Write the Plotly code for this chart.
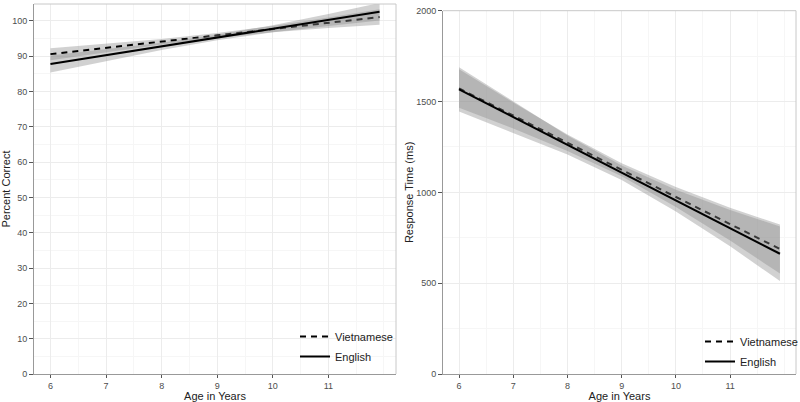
import plotly.graph_objects as go
from plotly.subplots import make_subplots

# ── Data ─────────────────────────────────────────────────────────────────────
age = [6, 7, 8, 9, 10, 11, 11.92]

# Percent correct: fitted line and confidence band
pc_viet_fit = [90.6, 92.4, 94.1, 95.9, 97.7, 99.5, 101.1]
pc_viet_lo = [88.9, 91.2, 93.3, 95.2, 96.8, 98.0, 98.9]
pc_viet_hi = [92.3, 93.6, 94.9, 96.6, 98.6, 101.0, 103.3]

pc_eng_fit = [87.8, 90.3, 92.8, 95.3, 97.8, 100.3, 102.6]
pc_eng_lo = [85.4, 88.7, 91.8, 94.5, 96.8, 98.6, 100.1]
pc_eng_hi = [90.2, 91.9, 93.8, 96.1, 98.8, 102.0, 105.1]

# Response time (ms): fitted line and confidence band
rt_viet_fit = [1572, 1423, 1273, 1124, 975, 825, 688]
rt_viet_lo = [1466, 1351, 1228, 1088, 920, 735, 553]
rt_viet_hi = [1678, 1495, 1318, 1160, 1030, 915, 823]

rt_eng_fit = [1567, 1414, 1261, 1108, 955, 803, 662]
rt_eng_lo = [1445, 1329, 1209, 1068, 895, 703, 512]
rt_eng_hi = [1689, 1499, 1313, 1148, 1015, 903, 812]

x_ticks = [6, 7, 8, 9, 10, 11]
pc_ticks = [0, 10, 20, 30, 40, 50, 60, 70, 80, 90, 100]
rt_ticks = [0, 500, 1000, 1500, 2000]

# ── Styling ──────────────────────────────────────────────────────────────────
FONT = "Arial, Liberation Sans, sans-serif"
BAND = "rgba(140,140,140,0.4)"
GRID = "#ececec"
MINOR = "#f6f6f6"

# plot area in pixels: l=34, r=4, t=4, b=28  -> 762 x 370
W, H = 800, 402
ML, MR, MT, MB = 34, 4, 4, 28
PW, PH = W - ML - MR, H - MT - MB


def px_x(a, b):
    return [(a - ML) / PW, (b - ML) / PW]


fig = make_subplots(rows=1, cols=2)


def add_series(col, fit, lo, hi, name, dash, legend):
    fig.add_trace(
        go.Scatter(x=age, y=lo, mode="lines", line=dict(width=0),
                   showlegend=False, hoverinfo="skip"),
        row=1, col=col,
    )
    fig.add_trace(
        go.Scatter(x=age, y=hi, mode="lines", line=dict(width=0),
                   fill="tonexty", fillcolor=BAND,
                   showlegend=False, hoverinfo="skip"),
        row=1, col=col,
    )
    fig.add_trace(
        go.Scatter(x=age, y=fit, mode="lines", name=name,
                   line=dict(color="black", width=2, dash=dash),
                   legend=legend, legendgroup=f"{legend}-{name}"),
        row=1, col=col,
    )


add_series(1, pc_viet_fit, pc_viet_lo, pc_viet_hi, "Vietnamese", "6px,5px", "legend")
add_series(1, pc_eng_fit, pc_eng_lo, pc_eng_hi, "English", "solid", "legend")
add_series(2, rt_viet_fit, rt_viet_lo, rt_viet_hi, "Vietnamese", "6px,5px", "legend2")
add_series(2, rt_eng_fit, rt_eng_lo, rt_eng_hi, "English", "solid", "legend2")

x_common = dict(
    range=[5.704, 12.216],
    tickmode="array", tickvals=x_ticks,
    ticks="outside", ticklen=3, tickcolor="#555",
    showline=True, linecolor="#999", mirror=False,
    showgrid=True, gridcolor=GRID, gridwidth=1,
    minor=dict(tickvals=[6.5, 7.5, 8.5, 9.5, 10.5, 11.5, 12],
               showgrid=True, gridcolor=MINOR, ticks=""),
    zeroline=False, automargin=False,
    tickfont=dict(size=9, color="#4d4d4d"),
    title=dict(text="Age in Years", font=dict(size=11, color="#222"), standoff=0),
)

fig.update_xaxes(**x_common, domain=px_x(34, 396), row=1, col=1)
fig.update_xaxes(**x_common, domain=px_x(443, 796), row=1, col=2)

y_common = dict(
    ticks="outside", ticklen=4, tickcolor="#555",
    showline=True, linecolor="#999",
    showgrid=True, gridcolor=GRID, gridwidth=1,
    zeroline=False, automargin=False,
    tickfont=dict(size=9, color="#4d4d4d"),
)

top_right = (374 - 10.7) / PH

fig.update_yaxes(
    **y_common,
    range=[0, 104.8], tickmode="array", tickvals=pc_ticks,
    minor=dict(tickvals=[5, 15, 25, 35, 45, 55, 65, 75, 85, 95],
               showgrid=True, gridcolor=MINOR, ticks=""),
    domain=[0, 1],
    title=dict(text="Percent Correct", font=dict(size=11, color="#222"), standoff=0),
    row=1, col=1,
)
fig.update_yaxes(
    **y_common,
    range=[0, 2000], tickmode="array", tickvals=rt_ticks,
    minor=dict(tickvals=[250, 750, 1250, 1750],
               showgrid=True, gridcolor=MINOR, ticks=""),
    domain=[0, top_right],
    title=dict(text="Response Time (ms)", font=dict(size=11, color="#222"), standoff=0),
    row=1, col=2,
)

# light panel borders (top / right)
for (x0, x1), ytop in [(px_x(34, 396), 1.0), (px_x(443, 796), top_right)]:
    fig.add_shape(type="line", xref="paper", yref="paper", x0=x0, x1=x1,
                  y0=ytop, y1=ytop, line=dict(color="#c8c8c8", width=1))
    fig.add_shape(type="line", xref="paper", yref="paper", x0=x1, x1=x1,
                  y0=0, y1=ytop, line=dict(color="#c8c8c8", width=1))

legend_style = dict(
    bgcolor="rgba(0,0,0,0)", font=dict(size=11, color="#222", family=FONT),
    traceorder="grouped", xanchor="left", yanchor="top",
    itemwidth=30, tracegroupgap=1,
)

fig.update_layout(
    width=W, height=H,
    margin=dict(l=ML, r=MR, t=MT, b=MB, autoexpand=False),
    plot_bgcolor="white", paper_bgcolor="white",
    font=dict(family=FONT),
    legend=dict(**legend_style, x=(295 - ML) / PW, y=(374 - 322) / PH),
    legend2=dict(**legend_style, x=(700 - ML) / PW, y=(374 - 327) / PH),
)

# the page's default body margin would offset the figure by 8px
fig.write_html(
    "out.html",
    config={"displayModeBar": False},
    post_script="document.body.style.margin='0';",
)
